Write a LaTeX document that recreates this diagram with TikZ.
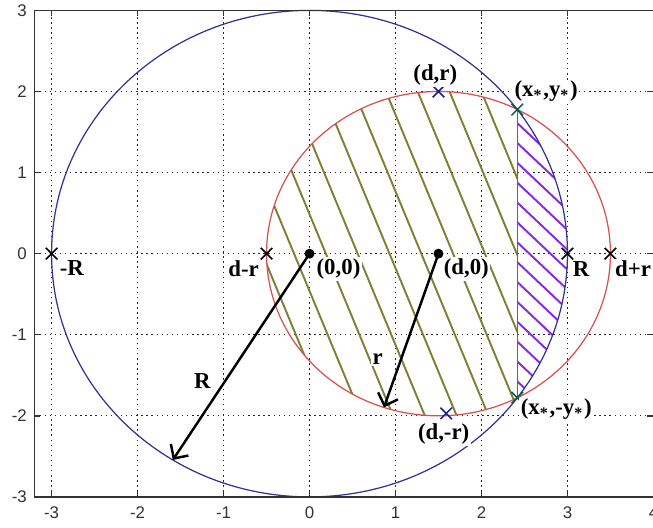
\documentclass[tikz,border=0pt]{standalone}
\usepackage{fontspec}
\setmainfont{Liberation Serif}
\setsansfont{Liberation Sans}
\usetikzlibrary{arrows.meta,shapes.misc}
\definecolor{bigcirc}{RGB}{50,50,150}
\definecolor{smallcirc}{RGB}{215,80,80}
\definecolor{olivehatch}{RGB}{125,128,55}
\definecolor{violethatch}{RGB}{135,40,230}
\definecolor{chordgreen}{RGB}{30,150,40}
\definecolor{crossteal}{RGB}{0,95,75}
\definecolor{crossblue}{RGB}{30,30,140}

\begin{document}
\begin{tikzpicture}[x=0.861cm,y=0.812cm,
  gridline/.style={line width=0.35pt,dash pattern=on 0.4pt off 1.05pt,black!85},
  frame/.style={line width=0.4pt,black!80},
  ticklbl/.style={font=\sffamily\fontsize{4.8}{5}\selectfont,text=black!80,inner sep=0pt},
  lbl/.style={font=\fontsize{6.5}{7}\selectfont\bfseries,fill=white,inner sep=0.4pt},
  xmark/.style={cross out,draw=black,line width=0.45pt,minimum size=0.1cm,inner sep=0pt},
  cdot/.style={circle,fill=black,minimum size=0.1cm,inner sep=0pt},
  radarrow/.style={-{Straight Barb[length=3pt,width=6pt]},line width=0.7pt},
  hatchline/.style={line width=0.55pt}]
\useasboundingbox (-3.6,-3.374) rectangle (3.995,3.128);

% grid
\foreach \gx in {-3,...,3} \draw[gridline] (\gx,-3) -- (\gx,3);
\foreach \gy in {-2,...,2} \draw[gridline] (-3.2,\gy) -- (4,\gy);

% hatching
\begin{scope}
\clip (1.5,0) circle [radius=2];
\clip (-1,-2.5) rectangle (2.4167,2.5);
\foreach \c in {-0.55,-0.18,0.19,0.56,0.93,1.30,1.67,2.04,2.41,2.78}
  \draw[hatchline,olivehatch] ({\c+0.86},-2.2) -- ({\c-0.86},2.2);
\end{scope}
\begin{scope}
\clip (0,0) circle [radius=3];
\clip (2.4167,-2) rectangle (3.2,2);
\foreach \k in {0,...,14}
  \draw[hatchline,violethatch] (2.3167,{1.71-0.245*\k}) -- (3.4167,{0.61-0.245*\k});
\end{scope}

% circles
\draw[bigcirc,line width=0.35pt] (0,0) circle [radius=3];
\draw[smallcirc,line width=0.35pt] (1.5,0) circle [radius=2];

\coordinate (P) at (2.4167,1.777);
\coordinate (Q) at (2.4167,-1.777);
\draw[chordgreen,line width=0.45pt] (P) -- (Q);

% axes
\draw[frame] (-3.2,-3) rectangle (4,3);
\foreach \tx in {-3,...,3} {
  \draw[frame] (\tx,-3) -- (\tx,-2.926);
  \draw[frame] (\tx,3) -- (\tx,2.926);
}
\foreach \ty in {-2,...,2} {
  \draw[frame] (-3.2,\ty) -- (-3.13,\ty);
  \draw[frame] (4,\ty) -- (3.93,\ty);
}
\foreach \tx in {-3,...,4} \node[ticklbl,anchor=north] (tx\tx) at (\tx,-3.115) {\tx};
\foreach \ty in {-3,...,3} \node[ticklbl,anchor=east] (ty\ty) at (-3.28,\ty) {\ty};

% radii
\coordinate (Rtip) at (238:3);
\coordinate (rtip) at ({1.5+2*cos(251.5)},{2*sin(251.5)});
\draw[radarrow] (0,0) -- (Rtip);
\draw[radarrow] (1.5,0) -- (rtip);

% points
\node[cdot] (O) at (0,0) {};
\node[cdot] (D) at (1.5,0) {};
\node[xmark] (mR1) at (-3,0) {};
\node[xmark] (mdr) at (-0.5,0) {};
\node[xmark] (mR2) at (3,0) {};
\node[xmark] (mdpr) at (3.5,0) {};
\node[xmark,draw=crossblue] (mtop) at (1.5,2) {};
\node[xmark,draw=crossblue] (mbot) at (1.59,-1.97) {};
\node[xmark,draw=crossteal] (mP) at (P) {};
\node[xmark,draw=crossteal] (mQ) at (Q) {};

% labels
\node[lbl] (lR1) at (-2.764,-0.18) {-R};
\node[lbl] (ldr) at (-0.767,-0.18) {d-r};
\node[lbl] (lO) at (0.337,-0.19) {(0,0)};
\node[lbl] (lD) at (1.823,-0.19) {(d,0)};
\node[lbl] (lR2) at (3.159,-0.19) {R};
\node[lbl] (ldpr) at (3.763,-0.18) {d+r};
\node[lbl] (ltop) at (1.463,2.204) {(d,r)};
\node[lbl] (lP) at (2.753,2.0) {(x\textsubscript{*},y\textsubscript{*})};
\node[lbl] (lbot) at (1.56,-2.23) {(d,-r)};
\node[lbl] (lQ) at (2.87,-1.92) {(x\textsubscript{*},-y\textsubscript{*})};
\node[lbl] (lbigR) at (-1.246,-1.572) {R};
\node[lbl] (lr) at (0.793,-1.305) {r};
\end{tikzpicture}
\end{document}
